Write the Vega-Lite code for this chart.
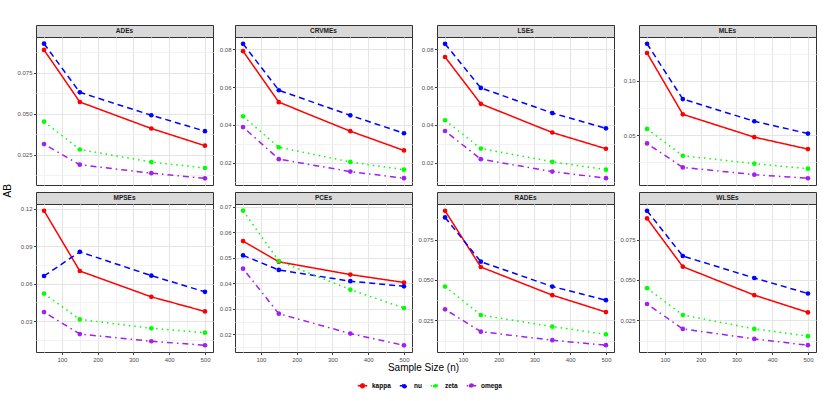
{
  "$schema": "https://vega.github.io/schema/vega-lite/v6.json",
  "padding": {"left": 3, "top": 24, "right": 5, "bottom": 2},
  "title": {"text": "AB", "orient": "left", "anchor": "middle", "frame": "bounds", "fontSize": 10, "fontWeight": "normal", "offset": 3, "dx": 18},
  "datasets": {
    "ab": [
      {"est": "ADEs", "n": 50, "kappa": 0.0889, "nu": 0.0927, "zeta": 0.0451, "omega": 0.0314},
      {"est": "ADEs", "n": 150, "kappa": 0.0571, "nu": 0.0630, "zeta": 0.0281, "omega": 0.0188},
      {"est": "ADEs", "n": 350, "kappa": 0.0409, "nu": 0.0490, "zeta": 0.0204, "omega": 0.0136},
      {"est": "ADEs", "n": 500, "kappa": 0.0304, "nu": 0.0393, "zeta": 0.0168, "omega": 0.0105},
      {"est": "CRVMEs", "n": 50, "kappa": 0.0791, "nu": 0.0830, "zeta": 0.0446, "omega": 0.0389},
      {"est": "CRVMEs", "n": 150, "kappa": 0.0521, "nu": 0.0584, "zeta": 0.0282, "omega": 0.0219},
      {"est": "CRVMEs", "n": 350, "kappa": 0.0367, "nu": 0.0451, "zeta": 0.0204, "omega": 0.0153},
      {"est": "CRVMEs", "n": 500, "kappa": 0.0265, "nu": 0.0356, "zeta": 0.0163, "omega": 0.0118},
      {"est": "LSEs", "n": 50, "kappa": 0.0760, "nu": 0.0830, "zeta": 0.0425, "omega": 0.0368},
      {"est": "LSEs", "n": 150, "kappa": 0.0512, "nu": 0.0596, "zeta": 0.0275, "omega": 0.0219},
      {"est": "LSEs", "n": 350, "kappa": 0.0360, "nu": 0.0463, "zeta": 0.0205, "omega": 0.0153},
      {"est": "LSEs", "n": 500, "kappa": 0.0274, "nu": 0.0382, "zeta": 0.0163, "omega": 0.0118},
      {"est": "MLEs", "n": 50, "kappa": 0.1256, "nu": 0.1341, "zeta": 0.0558, "omega": 0.0424},
      {"est": "MLEs", "n": 150, "kappa": 0.0692, "nu": 0.0832, "zeta": 0.0311, "omega": 0.0204},
      {"est": "MLEs", "n": 350, "kappa": 0.0482, "nu": 0.0628, "zeta": 0.0238, "omega": 0.0137},
      {"est": "MLEs", "n": 500, "kappa": 0.0372, "nu": 0.0515, "zeta": 0.0192, "omega": 0.0104},
      {"est": "MPSEs", "n": 50, "kappa": 0.1184, "nu": 0.0661, "zeta": 0.0520, "omega": 0.0372},
      {"est": "MPSEs", "n": 150, "kappa": 0.0701, "nu": 0.0855, "zeta": 0.0313, "omega": 0.0196},
      {"est": "MPSEs", "n": 350, "kappa": 0.0494, "nu": 0.0664, "zeta": 0.0242, "omega": 0.0138},
      {"est": "MPSEs", "n": 500, "kappa": 0.0377, "nu": 0.0534, "zeta": 0.0207, "omega": 0.0106},
      {"est": "PCEs", "n": 50, "kappa": 0.0565, "nu": 0.0509, "zeta": 0.0684, "omega": 0.0457},
      {"est": "PCEs", "n": 150, "kappa": 0.0484, "nu": 0.0452, "zeta": 0.0487, "omega": 0.0281},
      {"est": "PCEs", "n": 350, "kappa": 0.0434, "nu": 0.0408, "zeta": 0.0375, "omega": 0.0203},
      {"est": "PCEs", "n": 500, "kappa": 0.0403, "nu": 0.0388, "zeta": 0.0303, "omega": 0.0157},
      {"est": "RADEs", "n": 50, "kappa": 0.0928, "nu": 0.0887, "zeta": 0.0459, "omega": 0.0318},
      {"est": "RADEs", "n": 150, "kappa": 0.0580, "nu": 0.0613, "zeta": 0.0283, "omega": 0.0180},
      {"est": "RADEs", "n": 350, "kappa": 0.0406, "nu": 0.0459, "zeta": 0.0211, "omega": 0.0127},
      {"est": "RADEs", "n": 500, "kappa": 0.0301, "nu": 0.0375, "zeta": 0.0164, "omega": 0.0096},
      {"est": "WLSEs", "n": 50, "kappa": 0.0881, "nu": 0.0928, "zeta": 0.0449, "omega": 0.0351},
      {"est": "WLSEs", "n": 150, "kappa": 0.0582, "nu": 0.0648, "zeta": 0.0283, "omega": 0.0197},
      {"est": "WLSEs", "n": 350, "kappa": 0.0406, "nu": 0.0512, "zeta": 0.0197, "omega": 0.0135},
      {"est": "WLSEs", "n": 500, "kappa": 0.0299, "nu": 0.0416, "zeta": 0.0152, "omega": 0.0096}
    ]
  },
  "vconcat": [
    {
      "title": {"text": "Sample Size (n)", "orient": "bottom", "anchor": "middle", "frame": "bounds", "fontSize": 10, "fontWeight": "normal", "offset": 0, "dx": 7},
      "columns": 4,
      "spacing": {"row": 5, "column": 4},
      "concat": [
        {"bounds": "flush", "spacing": 0, "vconcat": [
          {"width": 177, "height": 12, "view": {"fill": "#d9d9d9", "stroke": "#333333"}, "data": {"name": "ab"},
           "transform": [{"filter": "datum.est === 'ADEs'"}, {"aggregate": [{"op": "count", "as": "k"}], "groupby": ["est"]}],
           "mark": {"type": "text", "fontSize": 6.5, "fontWeight": "bold", "color": "#1a1a1a"},
           "encoding": {"text": {"field": "est"}}},
          {"width": 177, "height": 148, "data": {"name": "ab"},
           "transform": [{"filter": "datum.est === 'ADEs'"}, {"fold": ["kappa", "nu", "zeta", "omega"], "as": ["param", "AB"]}],
           "encoding": {
             "x": {"field": "n", "type": "quantitative", "title": null, "scale": {"domain": [27.5, 522.5], "nice": false},
                   "axis": {"values": [50, 100, 150, 200, 250, 300, 350, 400, 450, 500], "labels": false, "ticks": false,
                            "gridColor": {"condition": {"test": "datum.value % 100 === 0", "value": "#e4e4e4"}, "value": "#f1f1f1"}}},
             "y": {"field": "AB", "type": "quantitative", "title": null, "scale": {"domain": [0.0064, 0.0968], "nice": false, "zero": false},
                   "axis": {"values": [0.0125, 0.025, 0.0375, 0.05, 0.0625, 0.075, 0.0875], "format": ".3f",
                            "labelExpr": "abs(datum.value/0.025 - round(datum.value/0.025)) < 0.01 ? datum.label : ''",
                            "tickOpacity": {"condition": {"test": "abs(datum.value/0.025 - round(datum.value/0.025)) < 0.01", "value": 1}, "value": 0},
                            "gridColor": {"condition": {"test": "abs(datum.value/0.025 - round(datum.value/0.025)) < 0.01", "value": "#e4e4e4"}, "value": "#f1f1f1"}}},
             "color": {"field": "param", "type": "nominal", "title": null, "scale": {"domain": ["kappa", "nu", "zeta", "omega"], "range": ["#ff0000", "#0000ff", "#00ff00", "#a020f0"]}}
           },
           "layer": [
             {"mark": {"type": "line", "strokeWidth": 1.5}, "encoding": {"strokeDash": {"field": "param", "type": "nominal", "title": null, "scale": {"domain": ["kappa", "nu", "zeta", "omega"], "range": [[1, 0], [6, 4], [1.5, 4], [1.5, 4, 6, 4]]}}}},
             {"mark": {"type": "point", "filled": true, "size": 22, "opacity": 1}}
           ]}
        ]},
        {"bounds": "flush", "spacing": 0, "vconcat": [
          {"width": 177, "height": 12, "view": {"fill": "#d9d9d9", "stroke": "#333333"}, "data": {"name": "ab"},
           "transform": [{"filter": "datum.est === 'CRVMEs'"}, {"aggregate": [{"op": "count", "as": "k"}], "groupby": ["est"]}],
           "mark": {"type": "text", "fontSize": 6.5, "fontWeight": "bold", "color": "#1a1a1a"},
           "encoding": {"text": {"field": "est"}}},
          {"width": 177, "height": 148, "data": {"name": "ab"},
           "transform": [{"filter": "datum.est === 'CRVMEs'"}, {"fold": ["kappa", "nu", "zeta", "omega"], "as": ["param", "AB"]}],
           "encoding": {
             "x": {"field": "n", "type": "quantitative", "title": null, "scale": {"domain": [27.5, 522.5], "nice": false},
                   "axis": {"values": [50, 100, 150, 200, 250, 300, 350, 400, 450, 500], "labels": false, "ticks": false,
                            "gridColor": {"condition": {"test": "datum.value % 100 === 0", "value": "#e4e4e4"}, "value": "#f1f1f1"}}},
             "y": {"field": "AB", "type": "quantitative", "title": null, "scale": {"domain": [0.0082, 0.0866], "nice": false, "zero": false},
                   "axis": {"values": [0.01, 0.02, 0.03, 0.04, 0.05, 0.06, 0.07, 0.08], "format": ".2f",
                            "labelExpr": "abs(datum.value/0.02 - round(datum.value/0.02)) < 0.01 ? datum.label : ''",
                            "tickOpacity": {"condition": {"test": "abs(datum.value/0.02 - round(datum.value/0.02)) < 0.01", "value": 1}, "value": 0},
                            "gridColor": {"condition": {"test": "abs(datum.value/0.02 - round(datum.value/0.02)) < 0.01", "value": "#e4e4e4"}, "value": "#f1f1f1"}}},
             "color": {"field": "param", "type": "nominal", "title": null, "scale": {"domain": ["kappa", "nu", "zeta", "omega"], "range": ["#ff0000", "#0000ff", "#00ff00", "#a020f0"]}}
           },
           "layer": [
             {"mark": {"type": "line", "strokeWidth": 1.5}, "encoding": {"strokeDash": {"field": "param", "type": "nominal", "title": null, "scale": {"domain": ["kappa", "nu", "zeta", "omega"], "range": [[1, 0], [6, 4], [1.5, 4], [1.5, 4, 6, 4]]}}}},
             {"mark": {"type": "point", "filled": true, "size": 22, "opacity": 1}}
           ]}
        ]},
        {"bounds": "flush", "spacing": 0, "vconcat": [
          {"width": 177, "height": 12, "view": {"fill": "#d9d9d9", "stroke": "#333333"}, "data": {"name": "ab"},
           "transform": [{"filter": "datum.est === 'LSEs'"}, {"aggregate": [{"op": "count", "as": "k"}], "groupby": ["est"]}],
           "mark": {"type": "text", "fontSize": 6.5, "fontWeight": "bold", "color": "#1a1a1a"},
           "encoding": {"text": {"field": "est"}}},
          {"width": 177, "height": 148, "data": {"name": "ab"},
           "transform": [{"filter": "datum.est === 'LSEs'"}, {"fold": ["kappa", "nu", "zeta", "omega"], "as": ["param", "AB"]}],
           "encoding": {
             "x": {"field": "n", "type": "quantitative", "title": null, "scale": {"domain": [27.5, 522.5], "nice": false},
                   "axis": {"values": [50, 100, 150, 200, 250, 300, 350, 400, 450, 500], "labels": false, "ticks": false,
                            "gridColor": {"condition": {"test": "datum.value % 100 === 0", "value": "#e4e4e4"}, "value": "#f1f1f1"}}},
             "y": {"field": "AB", "type": "quantitative", "title": null, "scale": {"domain": [0.0082, 0.0866], "nice": false, "zero": false},
                   "axis": {"values": [0.01, 0.02, 0.03, 0.04, 0.05, 0.06, 0.07, 0.08], "format": ".2f",
                            "labelExpr": "abs(datum.value/0.02 - round(datum.value/0.02)) < 0.01 ? datum.label : ''",
                            "tickOpacity": {"condition": {"test": "abs(datum.value/0.02 - round(datum.value/0.02)) < 0.01", "value": 1}, "value": 0},
                            "gridColor": {"condition": {"test": "abs(datum.value/0.02 - round(datum.value/0.02)) < 0.01", "value": "#e4e4e4"}, "value": "#f1f1f1"}}},
             "color": {"field": "param", "type": "nominal", "title": null, "scale": {"domain": ["kappa", "nu", "zeta", "omega"], "range": ["#ff0000", "#0000ff", "#00ff00", "#a020f0"]}}
           },
           "layer": [
             {"mark": {"type": "line", "strokeWidth": 1.5}, "encoding": {"strokeDash": {"field": "param", "type": "nominal", "title": null, "scale": {"domain": ["kappa", "nu", "zeta", "omega"], "range": [[1, 0], [6, 4], [1.5, 4], [1.5, 4, 6, 4]]}}}},
             {"mark": {"type": "point", "filled": true, "size": 22, "opacity": 1}}
           ]}
        ]},
        {"bounds": "flush", "spacing": 0, "vconcat": [
          {"width": 177, "height": 12, "view": {"fill": "#d9d9d9", "stroke": "#333333"}, "data": {"name": "ab"},
           "transform": [{"filter": "datum.est === 'MLEs'"}, {"aggregate": [{"op": "count", "as": "k"}], "groupby": ["est"]}],
           "mark": {"type": "text", "fontSize": 6.5, "fontWeight": "bold", "color": "#1a1a1a"},
           "encoding": {"text": {"field": "est"}}},
          {"width": 177, "height": 148, "data": {"name": "ab"},
           "transform": [{"filter": "datum.est === 'MLEs'"}, {"fold": ["kappa", "nu", "zeta", "omega"], "as": ["param", "AB"]}],
           "encoding": {
             "x": {"field": "n", "type": "quantitative", "title": null, "scale": {"domain": [27.5, 522.5], "nice": false},
                   "axis": {"values": [50, 100, 150, 200, 250, 300, 350, 400, 450, 500], "labels": false, "ticks": false,
                            "gridColor": {"condition": {"test": "datum.value % 100 === 0", "value": "#e4e4e4"}, "value": "#f1f1f1"}}},
             "y": {"field": "AB", "type": "quantitative", "title": null, "scale": {"domain": [0.0042, 0.1403], "nice": false, "zero": false},
                   "axis": {"values": [0.025, 0.05, 0.075, 0.1, 0.125], "format": ".2f",
                            "labelExpr": "abs(datum.value/0.05 - round(datum.value/0.05)) < 0.01 ? datum.label : ''",
                            "tickOpacity": {"condition": {"test": "abs(datum.value/0.05 - round(datum.value/0.05)) < 0.01", "value": 1}, "value": 0},
                            "gridColor": {"condition": {"test": "abs(datum.value/0.05 - round(datum.value/0.05)) < 0.01", "value": "#e4e4e4"}, "value": "#f1f1f1"}}},
             "color": {"field": "param", "type": "nominal", "title": null, "scale": {"domain": ["kappa", "nu", "zeta", "omega"], "range": ["#ff0000", "#0000ff", "#00ff00", "#a020f0"]}}
           },
           "layer": [
             {"mark": {"type": "line", "strokeWidth": 1.5}, "encoding": {"strokeDash": {"field": "param", "type": "nominal", "title": null, "scale": {"domain": ["kappa", "nu", "zeta", "omega"], "range": [[1, 0], [6, 4], [1.5, 4], [1.5, 4, 6, 4]]}}}},
             {"mark": {"type": "point", "filled": true, "size": 22, "opacity": 1}}
           ]}
        ]},
        {"bounds": "flush", "spacing": 0, "vconcat": [
          {"width": 177, "height": 12, "view": {"fill": "#d9d9d9", "stroke": "#333333"}, "data": {"name": "ab"},
           "transform": [{"filter": "datum.est === 'MPSEs'"}, {"aggregate": [{"op": "count", "as": "k"}], "groupby": ["est"]}],
           "mark": {"type": "text", "fontSize": 6.5, "fontWeight": "bold", "color": "#1a1a1a"},
           "encoding": {"text": {"field": "est"}}},
          {"width": 177, "height": 148, "data": {"name": "ab"},
           "transform": [{"filter": "datum.est === 'MPSEs'"}, {"fold": ["kappa", "nu", "zeta", "omega"], "as": ["param", "AB"]}],
           "encoding": {
             "x": {"field": "n", "type": "quantitative", "title": null, "scale": {"domain": [27.5, 522.5], "nice": false},
                   "axis": {"values": [50, 100, 150, 200, 250, 300, 350, 400, 450, 500],
                            "labelExpr": "datum.value % 100 === 0 ? datum.label : ''",
                            "tickOpacity": {"condition": {"test": "datum.value % 100 === 0", "value": 1}, "value": 0},
                            "gridColor": {"condition": {"test": "datum.value % 100 === 0", "value": "#e4e4e4"}, "value": "#f1f1f1"}}},
             "y": {"field": "AB", "type": "quantitative", "title": null, "scale": {"domain": [0.0052, 0.1238], "nice": false, "zero": false},
                   "axis": {"values": [0.015, 0.03, 0.045, 0.06, 0.075, 0.09, 0.105, 0.12], "format": ".2f",
                            "labelExpr": "abs(datum.value/0.03 - round(datum.value/0.03)) < 0.01 ? datum.label : ''",
                            "tickOpacity": {"condition": {"test": "abs(datum.value/0.03 - round(datum.value/0.03)) < 0.01", "value": 1}, "value": 0},
                            "gridColor": {"condition": {"test": "abs(datum.value/0.03 - round(datum.value/0.03)) < 0.01", "value": "#e4e4e4"}, "value": "#f1f1f1"}}},
             "color": {"field": "param", "type": "nominal", "title": null, "scale": {"domain": ["kappa", "nu", "zeta", "omega"], "range": ["#ff0000", "#0000ff", "#00ff00", "#a020f0"]}}
           },
           "layer": [
             {"mark": {"type": "line", "strokeWidth": 1.5}, "encoding": {"strokeDash": {"field": "param", "type": "nominal", "title": null, "scale": {"domain": ["kappa", "nu", "zeta", "omega"], "range": [[1, 0], [6, 4], [1.5, 4], [1.5, 4, 6, 4]]}}}},
             {"mark": {"type": "point", "filled": true, "size": 22, "opacity": 1}}
           ]}
        ]},
        {"bounds": "flush", "spacing": 0, "vconcat": [
          {"width": 177, "height": 12, "view": {"fill": "#d9d9d9", "stroke": "#333333"}, "data": {"name": "ab"},
           "transform": [{"filter": "datum.est === 'PCEs'"}, {"aggregate": [{"op": "count", "as": "k"}], "groupby": ["est"]}],
           "mark": {"type": "text", "fontSize": 6.5, "fontWeight": "bold", "color": "#1a1a1a"},
           "encoding": {"text": {"field": "est"}}},
          {"width": 177, "height": 148, "data": {"name": "ab"},
           "transform": [{"filter": "datum.est === 'PCEs'"}, {"fold": ["kappa", "nu", "zeta", "omega"], "as": ["param", "AB"]}],
           "encoding": {
             "x": {"field": "n", "type": "quantitative", "title": null, "scale": {"domain": [27.5, 522.5], "nice": false},
                   "axis": {"values": [50, 100, 150, 200, 250, 300, 350, 400, 450, 500],
                            "labelExpr": "datum.value % 100 === 0 ? datum.label : ''",
                            "tickOpacity": {"condition": {"test": "datum.value % 100 === 0", "value": 1}, "value": 0},
                            "gridColor": {"condition": {"test": "datum.value % 100 === 0", "value": "#e4e4e4"}, "value": "#f1f1f1"}}},
             "y": {"field": "AB", "type": "quantitative", "title": null, "scale": {"domain": [0.0131, 0.071], "nice": false, "zero": false},
                   "axis": {"values": [0.015, 0.02, 0.025, 0.03, 0.035, 0.04, 0.045, 0.05, 0.055, 0.06, 0.065, 0.07], "format": ".2f",
                            "labelExpr": "abs(datum.value/0.01 - round(datum.value/0.01)) < 0.01 ? datum.label : ''",
                            "tickOpacity": {"condition": {"test": "abs(datum.value/0.01 - round(datum.value/0.01)) < 0.01", "value": 1}, "value": 0},
                            "gridColor": {"condition": {"test": "abs(datum.value/0.01 - round(datum.value/0.01)) < 0.01", "value": "#e4e4e4"}, "value": "#f1f1f1"}}},
             "color": {"field": "param", "type": "nominal", "title": null, "scale": {"domain": ["kappa", "nu", "zeta", "omega"], "range": ["#ff0000", "#0000ff", "#00ff00", "#a020f0"]}}
           },
           "layer": [
             {"mark": {"type": "line", "strokeWidth": 1.5}, "encoding": {"strokeDash": {"field": "param", "type": "nominal", "title": null, "scale": {"domain": ["kappa", "nu", "zeta", "omega"], "range": [[1, 0], [6, 4], [1.5, 4], [1.5, 4, 6, 4]]}}}},
             {"mark": {"type": "point", "filled": true, "size": 22, "opacity": 1}}
           ]}
        ]},
        {"bounds": "flush", "spacing": 0, "vconcat": [
          {"width": 177, "height": 12, "view": {"fill": "#d9d9d9", "stroke": "#333333"}, "data": {"name": "ab"},
           "transform": [{"filter": "datum.est === 'RADEs'"}, {"aggregate": [{"op": "count", "as": "k"}], "groupby": ["est"]}],
           "mark": {"type": "text", "fontSize": 6.5, "fontWeight": "bold", "color": "#1a1a1a"},
           "encoding": {"text": {"field": "est"}}},
          {"width": 177, "height": 148, "data": {"name": "ab"},
           "transform": [{"filter": "datum.est === 'RADEs'"}, {"fold": ["kappa", "nu", "zeta", "omega"], "as": ["param", "AB"]}],
           "encoding": {
             "x": {"field": "n", "type": "quantitative", "title": null, "scale": {"domain": [27.5, 522.5], "nice": false},
                   "axis": {"values": [50, 100, 150, 200, 250, 300, 350, 400, 450, 500],
                            "labelExpr": "datum.value % 100 === 0 ? datum.label : ''",
                            "tickOpacity": {"condition": {"test": "datum.value % 100 === 0", "value": 1}, "value": 0},
                            "gridColor": {"condition": {"test": "datum.value % 100 === 0", "value": "#e4e4e4"}, "value": "#f1f1f1"}}},
             "y": {"field": "AB", "type": "quantitative", "title": null, "scale": {"domain": [0.0054, 0.097], "nice": false, "zero": false},
                   "axis": {"values": [0.0125, 0.025, 0.0375, 0.05, 0.0625, 0.075, 0.0875], "format": ".3f",
                            "labelExpr": "abs(datum.value/0.025 - round(datum.value/0.025)) < 0.01 ? datum.label : ''",
                            "tickOpacity": {"condition": {"test": "abs(datum.value/0.025 - round(datum.value/0.025)) < 0.01", "value": 1}, "value": 0},
                            "gridColor": {"condition": {"test": "abs(datum.value/0.025 - round(datum.value/0.025)) < 0.01", "value": "#e4e4e4"}, "value": "#f1f1f1"}}},
             "color": {"field": "param", "type": "nominal", "title": null, "scale": {"domain": ["kappa", "nu", "zeta", "omega"], "range": ["#ff0000", "#0000ff", "#00ff00", "#a020f0"]}}
           },
           "layer": [
             {"mark": {"type": "line", "strokeWidth": 1.5}, "encoding": {"strokeDash": {"field": "param", "type": "nominal", "title": null, "scale": {"domain": ["kappa", "nu", "zeta", "omega"], "range": [[1, 0], [6, 4], [1.5, 4], [1.5, 4, 6, 4]]}}}},
             {"mark": {"type": "point", "filled": true, "size": 22, "opacity": 1}}
           ]}
        ]},
        {"bounds": "flush", "spacing": 0, "vconcat": [
          {"width": 177, "height": 12, "view": {"fill": "#d9d9d9", "stroke": "#333333"}, "data": {"name": "ab"},
           "transform": [{"filter": "datum.est === 'WLSEs'"}, {"aggregate": [{"op": "count", "as": "k"}], "groupby": ["est"]}],
           "mark": {"type": "text", "fontSize": 6.5, "fontWeight": "bold", "color": "#1a1a1a"},
           "encoding": {"text": {"field": "est"}}},
          {"width": 177, "height": 148, "data": {"name": "ab"},
           "transform": [{"filter": "datum.est === 'WLSEs'"}, {"fold": ["kappa", "nu", "zeta", "omega"], "as": ["param", "AB"]}],
           "encoding": {
             "x": {"field": "n", "type": "quantitative", "title": null, "scale": {"domain": [27.5, 522.5], "nice": false},
                   "axis": {"values": [50, 100, 150, 200, 250, 300, 350, 400, 450, 500],
                            "labelExpr": "datum.value % 100 === 0 ? datum.label : ''",
                            "tickOpacity": {"condition": {"test": "datum.value % 100 === 0", "value": 1}, "value": 0},
                            "gridColor": {"condition": {"test": "datum.value % 100 === 0", "value": "#e4e4e4"}, "value": "#f1f1f1"}}},
             "y": {"field": "AB", "type": "quantitative", "title": null, "scale": {"domain": [0.0054, 0.097], "nice": false, "zero": false},
                   "axis": {"values": [0.0125, 0.025, 0.0375, 0.05, 0.0625, 0.075, 0.0875], "format": ".3f",
                            "labelExpr": "abs(datum.value/0.025 - round(datum.value/0.025)) < 0.01 ? datum.label : ''",
                            "tickOpacity": {"condition": {"test": "abs(datum.value/0.025 - round(datum.value/0.025)) < 0.01", "value": 1}, "value": 0},
                            "gridColor": {"condition": {"test": "abs(datum.value/0.025 - round(datum.value/0.025)) < 0.01", "value": "#e4e4e4"}, "value": "#f1f1f1"}}},
             "color": {"field": "param", "type": "nominal", "title": null, "scale": {"domain": ["kappa", "nu", "zeta", "omega"], "range": ["#ff0000", "#0000ff", "#00ff00", "#a020f0"]}}
           },
           "layer": [
             {"mark": {"type": "line", "strokeWidth": 1.5}, "encoding": {"strokeDash": {"field": "param", "type": "nominal", "title": null, "scale": {"domain": ["kappa", "nu", "zeta", "omega"], "range": [[1, 0], [6, 4], [1.5, 4], [1.5, 4, 6, 4]]}}}},
             {"mark": {"type": "point", "filled": true, "size": 22, "opacity": 1}}
           ]}
        ]}
      ]
    }
  ],
  "config": {
    "font": "Liberation Sans",
    "view": {"stroke": "#333333", "strokeWidth": 1},
    "axis": {"domain": false, "labelFontSize": 6, "labelColor": "#4d4d4d", "tickColor": "#333333", "tickSize": 2.5, "labelPadding": 1.5, "gridWidth": 1},
    "legend": {"orient": "none", "legendX": 319, "legendY": 353, "direction": "horizontal", "padding": 2, "labelFontSize": 6.5, "labelFontWeight": "bold", "labelColor": "#000000",
               "symbolType": "M-1,0H1M-0.4,0A0.4,0.4 0 1,0 0.4,0A0.4,0.4 0 1,0 -0.4,0", "symbolSize": 90, "symbolStrokeWidth": 1.5, "columnPadding": 5},
    "title": {"color": "#000000"}
  }
}
